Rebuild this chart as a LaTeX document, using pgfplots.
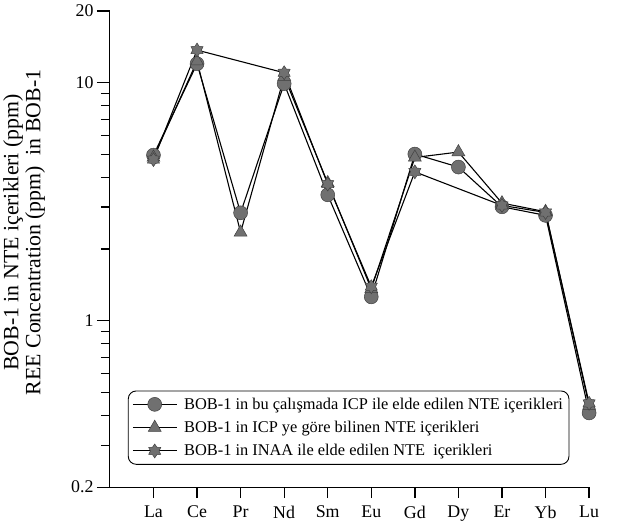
\documentclass[border=0pt]{standalone}
\usepackage{fontspec}
\setmainfont{Liberation Serif}
\usepackage{pgfplots}
\pgfplotsset{compat=1.18}

\definecolor{markgray}{RGB}{112,112,112}

% six-pointed filled star for the INAA series
\pgfdeclareplotmark{hexstar}{%
  \pgfpathmoveto{\pgfpointpolar{90}{\pgfplotmarksize}}%
  \pgfpathlineto{\pgfpointpolar{120}{0.62\pgfplotmarksize}}%
  \pgfpathlineto{\pgfpointpolar{150}{\pgfplotmarksize}}%
  \pgfpathlineto{\pgfpointpolar{180}{0.62\pgfplotmarksize}}%
  \pgfpathlineto{\pgfpointpolar{210}{\pgfplotmarksize}}%
  \pgfpathlineto{\pgfpointpolar{240}{0.62\pgfplotmarksize}}%
  \pgfpathlineto{\pgfpointpolar{270}{\pgfplotmarksize}}%
  \pgfpathlineto{\pgfpointpolar{300}{0.62\pgfplotmarksize}}%
  \pgfpathlineto{\pgfpointpolar{330}{\pgfplotmarksize}}%
  \pgfpathlineto{\pgfpointpolar{0}{0.62\pgfplotmarksize}}%
  \pgfpathlineto{\pgfpointpolar{30}{\pgfplotmarksize}}%
  \pgfpathlineto{\pgfpointpolar{60}{0.62\pgfplotmarksize}}%
  \pgfpathclose
  \pgfusepathqfillstroke
}

\begin{document}
\begin{tikzpicture}
\begin{axis}[
    at={(0,0)}, anchor=south west,
    scale only axis,
    width=481bp, height=478bp,
    clip=false,
    ymode=log,
    xmin=0, xmax=11,
    ymin=0.2, ymax=20,
    axis x line*=bottom,
    axis y line*=left,
    axis line style={line width=1.2bp},
    % x ticks drawn as extra ticks
    xtick=\empty,
    extra x ticks={1,2,3,4,5,6,7,8,9,10,11},
    extra x tick labels={La,Ce,Pr,Nd,Sm,Eu,Gd,Dy,Er,Yb,Lu},
    extra x tick style={major tick length=11bp,
        xticklabel style={yshift=-4bp}},
    ytick={0.2,1,10,20},
    yticklabels={0.2,1,10,20},
    extra y ticks={0.3,0.4,0.5,0.6,0.7,0.8,0.9,2,3,4,5,6,7,8,9},
    extra y tick labels={},
    extra y tick style={major tick length=9bp},
    tick align=outside,
    major tick length=13bp,
    tick style={draw=black, line width=1.3bp},
    ticklabel style={font=\fontsize{18}{20}\selectfont},
    ylabel={BOB-1 in NTE içerikleri (ppm)\\REE Concentration (ppm)\ \ in BOB-1},
    ylabel style={at={(axis description cs:-0.179,0.535)}, anchor=center,
        align=center, font=\fontsize{22}{22}\selectfont},
    legend cell align=left,
    legend style={at={(axis description cs:0.0374,0.203)}, anchor=north west,
        rounded corners=8bp, draw=black, line width=0.9bp,
        font=\fontsize{16.5}{18}\selectfont, row sep=6.5bp,
        inner xsep=4bp, inner ysep=5bp,
        /tikz/every odd column/.append style={column sep=5bp}},
    legend image code/.code={%
        \draw[mark repeat=2, mark phase=2, #1]
            plot coordinates {(0bp,0bp) (22bp,0bp) (44bp,0bp)};},
    every axis plot/.append style={black, line width=1.1bp,
        mark options={fill=markgray, draw=black!75, line width=0.5bp}},
]
\addplot[mark=*, mark size=7bp] coordinates {
    (1,4.96) (2,12.0) (3,2.84) (4,9.9) (5,3.38) (6,1.26)
    (7,5.01) (8,4.42) (9,3.01) (10,2.77) (11,0.41)
};
\addlegendentry{BOB-1 in bu çalışmada ICP ile elde edilen NTE içerikleri}
\addplot[mark=triangle*, mark size=7.5bp] coordinates {
    (1,4.85) (2,12.3) (3,2.35) (4,10.6) (5,3.79) (6,1.36)
    (7,4.85) (8,5.11) (9,3.12) (10,2.87) (11,0.44)
};
\addlegendentry{BOB-1 in ICP ye göre bilinen NTE içerikleri}
\addplot[mark=hexstar, mark size=7bp] coordinates {
    (1,4.75) (2,13.7) (4,11.0) (5,3.75) (6,1.39)
    (7,4.22) (9,3.05) (10,2.85) (11,0.45)
};
\addlegendentry{BOB-1 in INAA ile elde edilen NTE\ \ içerikleri}
\end{axis}
\path[use as bounding box] (-108bp,-41bp) rectangle (511bp,489bp);
\end{tikzpicture}
\end{document}
